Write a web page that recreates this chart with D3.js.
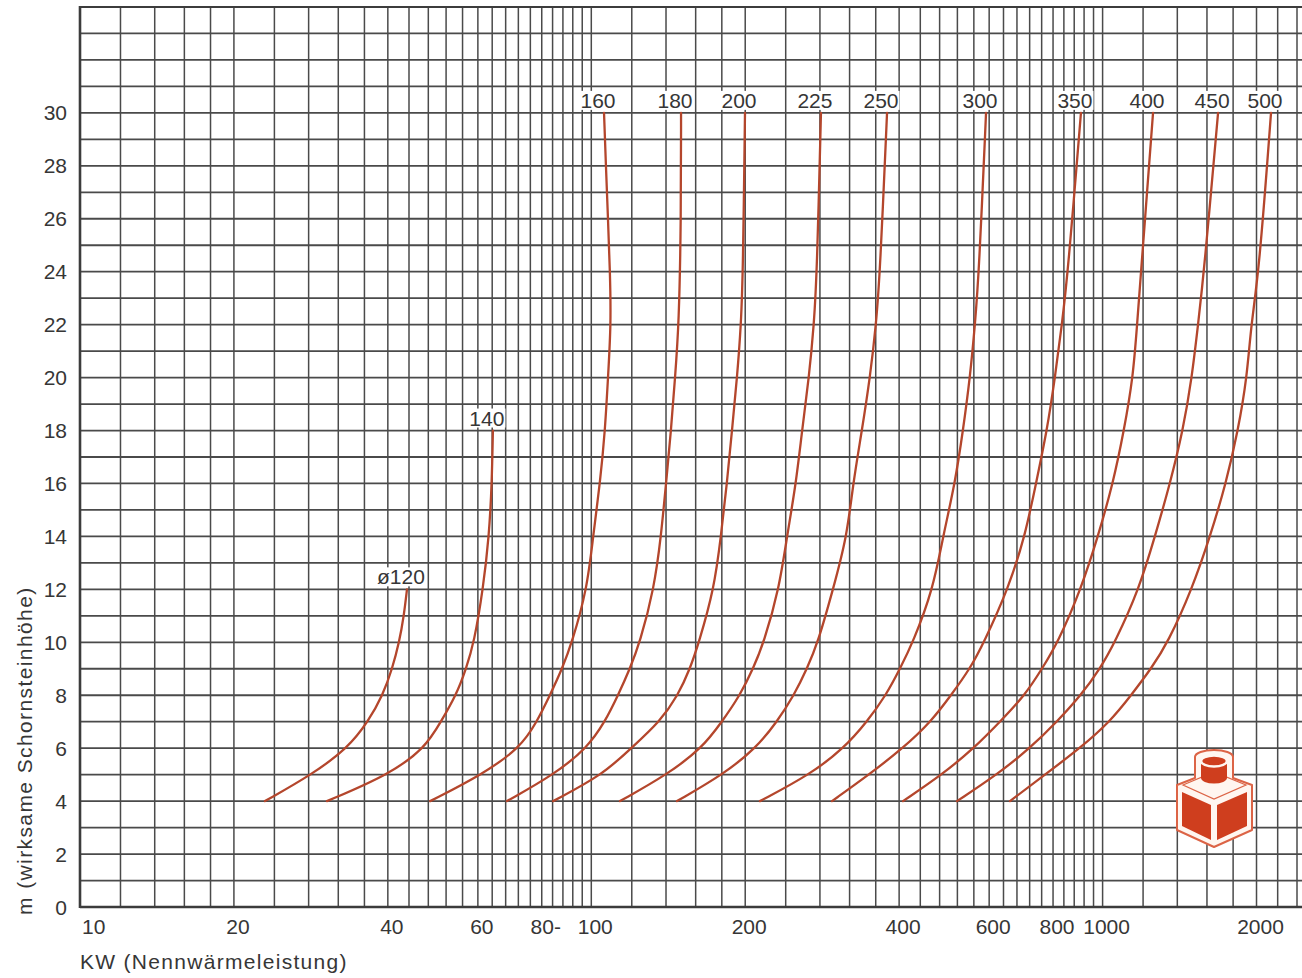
<!DOCTYPE html>
<html><head><meta charset="utf-8">
<script src="https://cdn.jsdelivr.net/npm/d3@7"></script>
<style>
html,body{margin:0;padding:0;background:#fff;}
svg{display:block;font-family:"Liberation Sans",Arial,Helvetica,sans-serif;}
</style></head><body>
<svg id="chart" width="1302" height="978"></svg>
<script>
// ---- data: [KW (Nennwärmeleistung), m (wirksame Schornsteinhöhe)] ----
const curveLabels = ["ø120","140","160","180","200","225","250","300","350","400","450","500"];
const d120 = [[23.0,4],[28.4,5],[33.4,6],[36.6,7],[39.1,8],[40.8,9],[42.1,10],[43.0,11],[43.6,12]];
const d140 = [[30.4,4],[40.2,5],[47.3,6],[50.8,7],[54.4,8],[56.9,9],[59.0,10],[61.4,12],[63.1,14],[63.9,16],[64.2,18]];
const d160 = [[48.4,4],[61.1,5],[72.5,6],[78.3,7],[83.0,8],[87.7,9],[91.7,10],[98.1,12],[100.8,14],[104.0,16],[106.4,18],[107.8,20],[109.3,22],[108.8,24],[107.8,26],[106.8,28],[105.9,30]];
const d180 = [[68.4,4],[84.5,5],[98.1,6],[106.4,7],[112.8,8],[119.0,9],[124.5,10],[132.6,12],[136.9,14],[140.0,16],[143.2,18],[145.8,20],[148.4,22],[149.8,26],[149.8,30]];
const d200 = [[84.2,4],[105.4,5],[119.6,6],[136.2,7],[147.8,8],[156.0,9],[162.4,10],[173.8,12],[179.3,14],[184.2,16],[188.4,18],[192.8,20],[196.3,22],[198.0,24],[199.8,30]];
const d225 = [[113.8,4],[140.7,5],[164.6,6],[180.1,7],[195.4,8],[207.2,9],[217.6,10],[232.9,12],[241.4,14],[251.4,16],[258.3,18],[266.5,20],[272.6,22],[276.3,24],[281.3,30]];
const d250 = [[147.1,4],[180.9,5],[210.0,6],[230.8,7],[249.2,8],[264.1,9],[277.6,10],[297.0,12],[316.3,14],[325.0,16],[338.3,18],[350.8,20],[360.6,22],[367.1,24],[378.8,30]];
const d300 = [[213.7,4],[267.7,5],[312.0,6],[346.1,7],[377.1,8],[401.5,9],[425.8,10],[466.0,12],[487.4,14],[514.4,16],[533.3,18],[550.4,20],[562.9,22],[573.2,24],[591.6,30]];
const d350 = [[295.6,4],[349.2,5],[407.0,6],[461.8,7],[505.2,8],[550.4,9],[586.1,10],[653.1,12],[705.0,14],[740.8,16],[778.5,18],[807.0,20],[832.6,22],[855.6,24],[907.1,30]];
const d400 = [[407.0,4],[485.2,5],[560.4,6],[630.0,7],[705.0,8],[761.1,9],[817.8,10],[907.1,12],[979.5,14],[1048,16],[1101,18],[1147,20],[1168,22],[1189,24],[1255,30]];
const d450 = [[519.0,4],[621.6,5],[721.1,6],[814.1,7],[907.1,8],[988.4,9],[1057,10],[1178,12],[1266,14],[1355,16],[1436,18],[1495,20],[1537,22],[1579,24],[1682,30]];
const d500 = [[659.0,4],[771.4,5],[903.2,6],[1034,7],[1137,8],[1244,9],[1343,10],[1495,12],[1623,14],[1743,16],[1840,18],[1916,20],[1951,22],[2023,24],[2135,30]];
const seriesData = [d120,d140,d160,d180,d200,d225,d250,d300,d350,d400,d450,d500];

const xTickValues = [10,20,40,60,80,100,200,400,600,800,1000,2000];
const xTickLabels = ["10","20","40","60","80-","100","200","400","600","800","1000","2000"];
const yTickValues = [0,2,4,6,8,10,12,14,16,18,20,22,24,26,28,30];
const xTitle = "KW (Nennwärmeleistung)";
const yTitle = "m (wirksame Schornsteinhöhe)";

// ---- layout ----
const svg = d3.select("#chart");
const x = d3.scaleLog().domain([10, 2400]).range([80, 1297]);
const y = d3.scaleLinear().domain([0, 34]).range([907, 7]);
const gridColor = "#4a4a4a";
const textColor = "#363636";
const curveColor = "#b4462c";

svg.append("rect").attr("width",1302).attr("height",978).attr("fill","#fff");

// vertical grid (log paper)
const xGrid = [].concat(d3.range(12,21,2), d3.range(24,101,4), d3.range(120,201,20), d3.range(240,1001,40), d3.range(1200,2401,200));
svg.append("g").selectAll("line").data(xGrid).join("line")
  .attr("x1", d => x(d)).attr("x2", d => x(d))
  .attr("y1", y(34)).attr("y2", y(0))
  .attr("stroke", gridColor).attr("stroke-width", 1.5);

// horizontal grid
const yGrid = d3.range(1, 34);
svg.append("g").selectAll("line").data(yGrid).join("line")
  .attr("x1", x(10)).attr("x2", 1302)
  .attr("y1", d => y(d)).attr("y2", d => y(d))
  .attr("stroke", gridColor).attr("stroke-width", 1.8);

// frame
svg.append("line").attr("x1", x(10)).attr("x2", 1302).attr("y1", y(34)).attr("y2", y(34))
  .attr("stroke", "#3c3c3c").attr("stroke-width", 2.2);
svg.append("line").attr("x1", x(10)).attr("x2", 1302).attr("y1", y(0)).attr("y2", y(0))
  .attr("stroke", "#3c3c3c").attr("stroke-width", 2.4);
svg.append("line").attr("x1", x(10)).attr("x2", x(10)).attr("y1", y(34)-1).attr("y2", y(0)+1)
  .attr("stroke", "#3c3c3c").attr("stroke-width", 2.6);

// y tick labels
svg.append("g").selectAll("text").data(yTickValues).join("text")
  .attr("x", 67).attr("y", d => y(d)).attr("dy", "0.36em")
  .attr("text-anchor", "end").attr("font-size", 21).attr("fill", textColor)
  .text(d => d);

// x tick labels
svg.append("g").selectAll("text").data(xTickValues).join("text")
  .attr("x", (d,i) => i === 0 ? x(d) + 2 : x(d) + 4)
  .attr("y", 934)
  .attr("text-anchor", (d,i) => i === 0 ? "start" : "middle")
  .attr("font-size", 21).attr("fill", textColor)
  .text((d,i) => xTickLabels[i]);

// axis titles
svg.append("text").attr("x", x(10)).attr("y", 969)
  .attr("font-size", 21).attr("letter-spacing", 1.3).attr("fill", textColor).text(xTitle);
svg.append("text").attr("transform", "translate(32,915) rotate(-90)")
  .attr("font-size", 21).attr("letter-spacing", 1.4).attr("fill", textColor).text(yTitle);

// curves
const line = d3.line().x(d => x(d[0])).y(d => y(d[1])).curve(d3.curveBasis);
svg.append("g").selectAll("path").data(seriesData).join("path")
  .attr("d", line).attr("fill", "none")
  .attr("stroke", curveColor).attr("stroke-width", 2.3).attr("stroke-linecap", "round");

// curve labels with white backing
const lg = svg.append("g");
seriesData.forEach((s, i) => {
  const top = s[s.length - 1];
  const g = lg.append("g");
  const t = g.append("text")
    .attr("x", x(top[0]) - 6).attr("y", y(top[1]) - 5)
    .attr("text-anchor", "middle").attr("font-size", 21).attr("fill", textColor)
    .text(curveLabels[i]);
  const b = t.node().getBBox();
  g.insert("rect", "text").attr("x", b.x - 1).attr("y", b.y + 2)
    .attr("width", b.width + 2).attr("height", b.height - 4).attr("fill", "#fff");
});

// logo (chimney block)
const red = "#cf3e1e", rim = "#dc6446", cream = "#fff6f0";
const logo = svg.append("g").attr("transform", "translate(1214,800)");
const hex = "M-37,-15 L-19,-22 L-19,-43 A19,7 0 0 1 19,-43 L19,-22 L38,-15 L38,30 L0,47 L-37,30 Z";
logo.append("path").attr("d", hex).attr("fill", cream).attr("stroke", rim).attr("stroke-width", 2).attr("stroke-linejoin", "round");
logo.append("path").attr("d", "M-31,-15 L0,-28 L32,-15 L0,-1 Z").attr("fill", "none").attr("stroke", rim).attr("stroke-width", 1.2);
logo.append("path").attr("d", "M-32,-8 L-3,5 L-3,40 L-32,26 Z").attr("fill", red);
logo.append("path").attr("d", "M3,5 L33,-8 L33,26 L3,40 Z").attr("fill", red);
logo.append("path").attr("d", "M-13,-37 L-13,-22 A13,5.5 0 0 0 13,-22 L13,-37 Z").attr("fill", red);
logo.append("ellipse").attr("cx", 0).attr("cy", -39).attr("rx", 13).attr("ry", 5.5)
  .attr("fill", red).attr("stroke", cream).attr("stroke-width", 2.6);
</script>
</body></html>
